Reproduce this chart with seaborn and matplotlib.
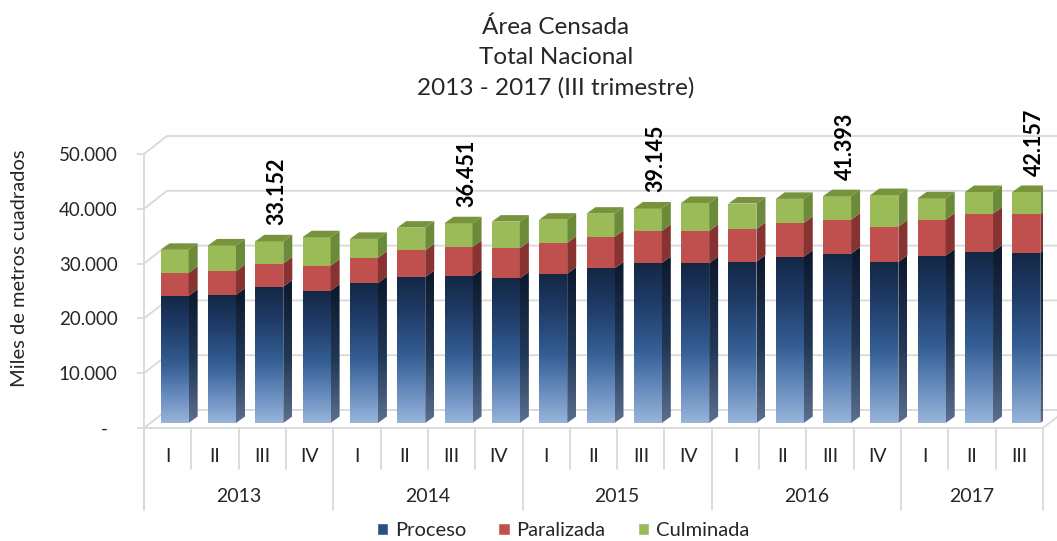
import numpy as np
import pandas as pd
import matplotlib
matplotlib.use("Agg")
import matplotlib.pyplot as plt
import seaborn as sns
from matplotlib.patches import Polygon, Patch
from matplotlib.colors import LinearSegmentedColormap

anios = ["2013", "2014", "2015", "2016", "2017"]
trimestres = ["I", "II", "III", "IV"] * 4 + ["I", "II", "III"]
anio_barra = [a for a in anios[:4] for _ in range(4)] + ["2017"] * 3

proceso = [23200, 23400, 24900, 24150, 25550, 26650, 26800, 26400, 27250, 28200,
           29200, 29150, 29450, 30350, 30900, 29400, 30550, 31250, 31100]
paralizada = [4200, 4300, 4200, 4550, 4600, 4850, 5300, 5500, 5600, 5750,
              5850, 5900, 5950, 6150, 6200, 6450, 6550, 6950, 7050]
culminada = [4200, 4700, 4052, 5200, 3450, 4150, 4351, 4850, 4250, 4250,
             4095, 5100, 4650, 4400, 4293, 5750, 3900, 3950, 4007]

tabla = pd.DataFrame({
    "periodo": [f"{a} {t}" for a, t in zip(anio_barra, trimestres)],
    "proceso": proceso,
    "paralizada": paralizada,
    "culminada": culminada,
})
tabla["hasta_paralizada"] = tabla["proceso"] + tabla["paralizada"]
tabla["total"] = tabla["hasta_paralizada"] + tabla["culminada"]

sns.set_style("white")
plt.rcParams["font.family"] = ["Lato", "DejaVu Sans"]

fig = plt.figure(figsize=(10.57, 5.41), dpi=100)
ax = fig.add_axes([144 / 1057, 1 - 428 / 541, 899 / 1057, 274 / 541])

n = len(tabla)
XPX = n / 899          # datos por pixel en x
YPX = 50000 / 274      # datos por pixel en y
BX, BY = 7 * XPX, 5 * YPX       # bar sits a bit deeper than front plane
DX, DY = 9 * XPX, 6.5 * YPX     # bar depth
WX, WY = 23 * XPX, 18 * YPX     # back wall offset
ANCHO = 28 * XPX
GRIS = "#d9d9d9"
TEXTO = "#262626"

azul = LinearSegmentedColormap.from_list(
    "azul", [(0, "#98b5da"), (0.25, "#5f84b8"), (0.45, "#355f95"),
             (0.75, "#1f3c68"), (1, "#132744")])
azul_lado = LinearSegmentedColormap.from_list(
    "azul_lado", [(0, "#5c6f8e"), (0.45, "#213857"), (1, "#0c182b")])

capas = [("total", "#9bbb59", 2), ("hasta_paralizada", "#c0504d", 3), ("proceso", "#2e578c", 4)]
parches = {}
for col, color, z in capas:
    antes = len(ax.patches)
    sns.barplot(data=tabla, x="periodo", y=col, color=color, saturation=1,
                width=ANCHO, edgecolor="none", linewidth=0, ax=ax, zorder=z)
    parches[col] = ax.patches[antes:]
    for p in parches[col]:
        p.set_x(p.get_x() + BX)
        p.set_y(p.get_y() + BY)
        p.set_zorder(z)

grad = np.linspace(0, 1, 256).reshape(-1, 1)
for i, p in enumerate(parches["proceso"]):
    x0 = p.get_x()
    im = ax.imshow(grad, cmap=azul, origin="lower", aspect="auto", zorder=4.5,
                   extent=[x0, x0 + ANCHO, BY, BY + proceso[i]])
    im.set_clip_path(p)

# caras laterales y superiores
for i, p in enumerate(parches["proceso"]):
    xr = p.get_x() + ANCHO
    xl = p.get_x()
    segs = [(0, proceso[i], None),
            (proceso[i], tabla["hasta_paralizada"][i], "#863331"),
            (tabla["hasta_paralizada"][i], tabla["total"][i], "#6b8b3a")]
    for b, t, c in segs:
        pts = [(xr, b + BY), (xr + DX, b + BY + DY), (xr + DX, t + BY + DY), (xr, t + BY)]
        if c is None:
            poly = Polygon(pts, closed=True, facecolor="none", edgecolor="none", zorder=5)
            ax.add_patch(poly)
            im = ax.imshow(grad, cmap=azul_lado, origin="lower", aspect="auto", zorder=5,
                           extent=[xr, xr + DX, BY, BY + DY + t])
            im.set_clip_path(poly)
        else:
            ax.add_patch(Polygon(pts, closed=True, facecolor=c, edgecolor="none", zorder=5))
    t = tabla["total"][i]
    ax.add_patch(Polygon([(xl, t + BY), (xl + DX, t + BY + DY), (xr + DX, t + BY + DY), (xr, t + BY)],
                         closed=True, facecolor="#77933c", edgecolor="none", zorder=5))

# pared del fondo y piso
x_izq, x_der = -0.5, n - 0.5
for v in range(0, 50001, 10000):
    ax.plot([x_izq, x_izq + WX, x_der + WX], [v, v + WY, v + WY], color=GRIS,
            lw=1.3, zorder=0.5, clip_on=False)
ax.plot([x_izq, x_der, x_der + WX], [0, 0, WY], color=GRIS, lw=1.3, zorder=0.6, clip_on=False)

# eje de categorias de dos niveles
q_fondo = -41 * YPX
a_fondo = -82 * YPX
ax.plot([x_izq, x_izq], [50000, a_fondo], color=GRIS, lw=1.3, clip_on=False)
for k in range(n + 1):
    es_anio = k == n or k % 4 == 0
    ax.plot([k - 0.5, k - 0.5], [0, a_fondo if es_anio else q_fondo], color=GRIS,
            lw=1.3, clip_on=False)
for i, t in enumerate(trimestres):
    ax.text(i, -28 * YPX, t, ha="center", va="center", fontsize=14, color=TEXTO)
for j, a in enumerate(anios):
    idx = [i for i, ab in enumerate(anio_barra) if ab == a]
    ax.text(np.mean(idx), -69 * YPX, a, ha="center", va="center", fontsize=14, color=TEXTO)

# etiquetas de totales en el III trimestre
for i, p in enumerate(parches["total"]):
    if trimestres[i] == "III":
        etiqueta = f"{tabla['total'][i]:,}".replace(",", ".")
        ax.annotate(etiqueta, xy=(p.get_x() + ANCHO / 2, tabla["total"][i] + BY),
                    xytext=(8, 16), textcoords="offset pixels", rotation=90,
                    ha="center", va="bottom", fontsize=15.5, fontweight="bold",
                    color="black", annotation_clip=False)

ax.set_xlim(x_izq, x_der)
ax.set_ylim(0, 50000)
ax.set_xticks([])
ax.set_xlabel("")
ax.set_ylabel("")
ax.set_yticks(range(0, 50001, 10000))
ax.set_yticklabels(["-  "] + [f"{v:,}".replace(",", ".") for v in range(10000, 50001, 10000)],
                   fontsize=13.5, color=TEXTO)
ax.tick_params(axis="y", length=5, width=1.3, color=GRIS, pad=14, left=True)
for s in ax.spines.values():
    s.set_visible(False)

fig.text(20 / 1057, 1 - 268 / 541, "Miles de metros cuadrados", rotation=90,
         ha="center", va="center", fontsize=14.5, color=TEXTO)
fig.text(556 / 1057, 1 - 27 / 541, "Área Censada", ha="center", va="center", fontsize=17.5)
fig.text(556 / 1057, 1 - 58 / 541, "Total Nacional", ha="center", va="center", fontsize=17.5)
fig.text(556 / 1057, 1 - 88 / 541, "2013 - 2017 (III trimestre)", ha="center", va="center", fontsize=17.5)

manijas = [Patch(facecolor="#2a4f80", label="Proceso"),
           Patch(facecolor="#c0504d", label="Paralizada"),
           Patch(facecolor="#9bbb59", label="Culminada")]
fig.legend(handles=manijas, loc="center", bbox_to_anchor=(563 / 1057, 1 - 531 / 541),
           ncol=3, frameon=False, fontsize=14.5, handlelength=0.55, handleheight=0.55,
           handletextpad=0.35, columnspacing=1.6)

fig.savefig("out.png", dpi=100)
